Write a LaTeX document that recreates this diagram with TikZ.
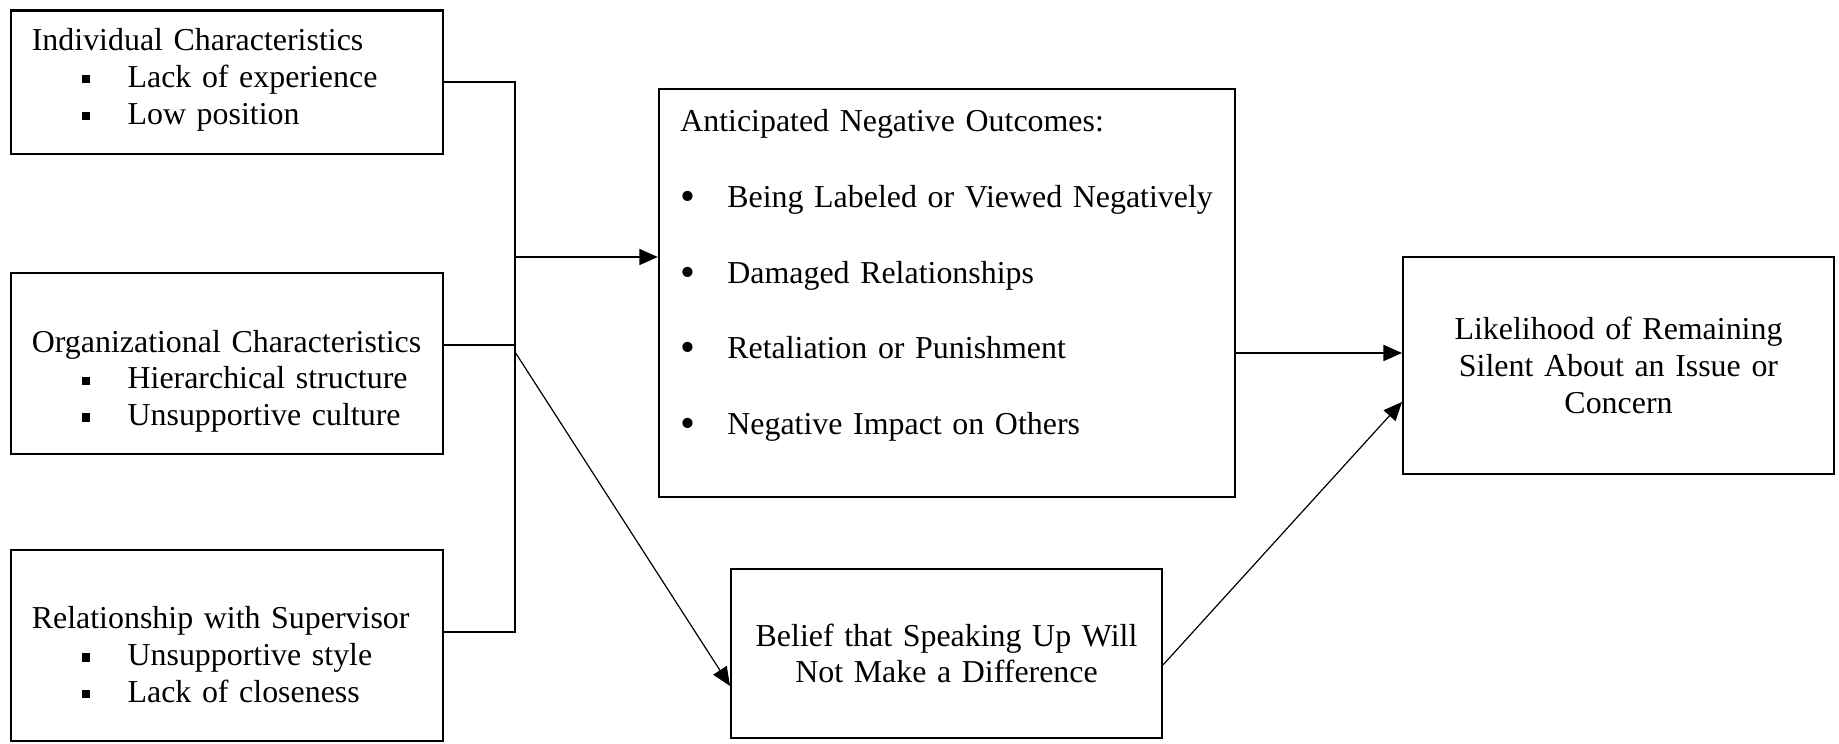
\documentclass[tikz,border=0pt]{standalone}
\usepackage{fontspec}
\setmainfont{Liberation Serif}
\usepackage{tikz}
\usetikzlibrary{calc}
\usetikzlibrary{arrows.meta}
\newcommand{\sqitem}[1]{\hspace*{18.8pt}\makebox[17.2pt][l]{\rule[1.5pt]{3.1pt}{3.1pt}}#1}
\newcommand{\dotitem}[1]{\makebox[17.7pt][l]{\raisebox{-1.2pt}{\fontsize{16pt}{0pt}\selectfont\textbullet}}#1}
\newcommand{\upstrut}[1]{\rule{0pt}{#1}}
\newcommand{\downstrut}[1]{\rule[-#1]{0pt}{#1}}
\tikzstyle{mybox} = [draw=black, line width=0.8pt, rectangle,
inner xsep=8pt, align=left, font=\fontsize{12pt}{13.8pt}\selectfont]
\tikzstyle{midbox} = [mybox, align=center]
\tikzstyle{busline} = [draw=black, line width=0.7pt]
\tikzstyle{busarrow} = [busline, -{Triangle[length=7pt, width=6pt]}]
\tikzstyle{slant} = [draw=black, line width=0.45pt, -{Triangle[length=7pt, width=6pt]}]

\begin{document}
\begin{tikzpicture}[x=0.376pt, y=-0.376pt]
        \fill [white] (0,0) rectangle (1839,744);
        \node [mybox, text width=146.6pt, minimum height=53.8pt] (indiv) at (226.8,82.1) {
            Individual Characteristics\\
            \sqitem{Lack of experience}\\
            \sqitem{Low position}\downstrut{4.4pt}
        };
        \node [mybox, text width=146.6pt, minimum height=68.1pt] (org) at (226.8,363.5) {
            \upstrut{21.7pt}Organizational Characteristics\\
            \sqitem{Hierarchical structure}\\
            \sqitem{Unsupportive culture}
        };
        \node [mybox, text width=146.6pt, minimum height=71.8pt] (rel) at (226.8,645.5) {
            \upstrut{15.3pt}Relationship with Supervisor\\
            \sqitem{Unsupportive style}\\
            \sqitem{Lack of closeness}
        };
        \node [mybox, text width=200.6pt, minimum height=153.4pt] (outcomes) at (947,293) {
            Anticipated Negative Outcomes:\\[14.6pt]
            \dotitem{Being Labeled or Viewed Negatively}\\[14.6pt]
            \dotitem{Damaged Relationships}\\[14.6pt]
            \dotitem{Retaliation or Punishment}\\[14.6pt]
            \dotitem{Negative Impact on Others}\downstrut{15.8pt}
        };
        \node [midbox, text width=146pt, minimum height=81.6pt] (silent) at (1618.5,365.5) {
            Likelihood of Remaining\\
            Silent About an Issue or\\
            Concern
        };
        \node [midbox, text width=146pt, minimum height=63.5pt] (belief) at (946.5,653.5) {
            Belief that Speaking Up Will\\
            Not Make a Difference
        };

        \coordinate (bustop) at (515,82);
        \coordinate (busorg) at (515,345);
        \coordinate (busout) at (515,257);
        \coordinate (busdiag) at (515,352);
        \coordinate (busbot) at (515,632);
        \coordinate (silentin) at ([yshift=4.7pt]silent.west);
        \draw [busline] (indiv.east |- bustop) -- (bustop) -- (busbot) -- (rel.east |- busbot);
        \draw [busline] (org.east |- busorg) -- (busorg);
        \draw [busarrow] (busout) -- (outcomes.west |- busout);
        \draw [busarrow] (outcomes.east |- silentin) -- (silentin);
        \draw [slant] (busdiag) -- ([yshift=-12.2pt]belief.west);
        \draw [slant] ([yshift=-4.3pt]belief.east) -- ([yshift=-13.7pt]silent.west);
    \end{tikzpicture}
\end{document}
